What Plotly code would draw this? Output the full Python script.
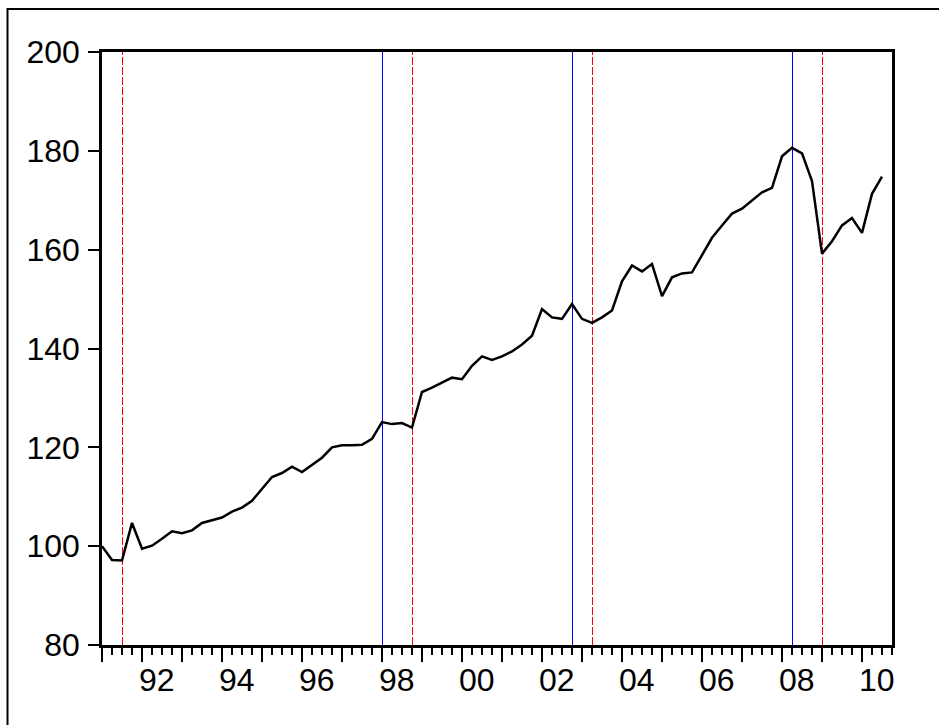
import plotly.graph_objects as go

# ---- data (quarterly, 1991Q1 .. 2010Q3) ----
start_year = 1991
values = [
    100.0, 97.2, 97.1, 104.7, 99.5, 100.1, 101.5, 103.0, 102.6, 103.2,
    104.7, 105.3, 105.8, 107.0, 107.8, 109.2, 111.7, 114.0, 114.8, 116.1,
    115.0, 116.5, 117.9, 120.0, 120.4, 120.4, 120.5, 121.7, 125.1, 124.7,
    124.9, 124.0, 131.2, 132.1, 133.1, 134.1, 133.8, 136.5, 138.4, 137.7,
    138.4, 139.4, 140.8, 142.6, 148.0, 146.3, 146.0, 149.0, 146.0, 145.2,
    146.3, 147.7, 153.6, 156.8, 155.6, 157.1, 150.6, 154.4, 155.2, 155.4,
    158.9, 162.4, 164.9, 167.3, 168.3, 169.9, 171.6, 172.5, 178.9, 180.6,
    179.5, 173.9, 159.2, 161.7, 164.9, 166.4, 163.4, 171.3, 174.8,
]
# vertical markers (year, quarter)
blue_quarters = [(1998, 1), (2002, 4), (2008, 2)]
red_quarters = [(1991, 3), (1998, 4), (2003, 2), (2009, 1)]
label_years = list(range(1992, 2011, 2))
tick_labels = ["%02d" % (y % 100) for y in label_years]
y_ticks = [80, 100, 120, 140, 160, 180, 200]

W, H = 939, 725
L, R, T, B = 102, 892, 52, 645
x_range = [start_year, start_year + 19.75]
px_per_year = (R - L) / (x_range[1] - x_range[0])
half_px = 0.5 / px_per_year  # keeps 1px marker lines crisp on the pixel grid

def qpos(y, q):
    return y + (q - 1) / 4.0

x = [start_year + i / 4.0 for i in range(len(values))]

fig = go.Figure()
fig.add_trace(go.Scatter(x=x, y=values, mode="lines",
                         line=dict(color="black", width=2.5), showlegend=False,
                         hoverinfo="skip"))

for (yy, q) in blue_quarters:
    fig.add_vline(x=qpos(yy, q) + half_px, line=dict(color="#0000ff", width=1), layer="below")
for (yy, q) in red_quarters:
    fig.add_vline(x=qpos(yy, q) + half_px, line=dict(color="#ff0000", width=1, dash="8px,2px"), layer="below")

font = dict(family="Liberation Sans, Arial, sans-serif", size=32, color="black")

fig.update_layout(
    width=W, height=H,
    margin=dict(l=L, r=W - R, t=T, b=H - B),
    paper_bgcolor="white", plot_bgcolor="white",
    showlegend=False,
    font=font,
    xaxis=dict(
        range=x_range, showgrid=False, zeroline=False,
        showline=True, linecolor="black", linewidth=2.5, mirror=True,
        ticks="outside", tick0=start_year, dtick=1, ticklen=14, tickwidth=2,
        tickcolor="black", showticklabels=False,
        minor=dict(ticks="outside", dtick=0.25, tick0=start_year, ticklen=7,
                   tickwidth=1.5, tickcolor="black", showgrid=False),
    ),
    xaxis2=dict(
        range=x_range, overlaying="x", side="bottom", anchor="y",
        showgrid=False, zeroline=False, showline=False, ticks="",
        tickmode="array", tickvals=[yy + 0.37 for yy in label_years],
        ticktext=tick_labels, tickfont=font, ticklabelstandoff=13,
    ),
    yaxis=dict(
        range=[80, 200], showgrid=False, zeroline=False,
        showline=True, linecolor="black", linewidth=2.5, mirror=True,
        ticks="outside", tickvals=y_ticks, ticklen=11, tickwidth=2,
        tickcolor="black", tickfont=font, ticklabelstandoff=2,
    ),
)
fig.add_trace(go.Scatter(x=[], y=[], xaxis="x2", showlegend=False))

# outer frame
pw, ph = R - L, B - T
fig.add_shape(type="rect", xref="paper", yref="paper",
              x0=(7.5 - L) / pw, x1=(W + 10 - L) / pw,
              y0=(B - (H + 10)) / ph, y1=(B - 9) / ph,
              line=dict(color="black", width=2), fillcolor="rgba(0,0,0,0)",
              layer="above")

fig.write_html(
    "out.html",
    config={"displayModeBar": False},
    post_script="document.body.style.margin='0';document.body.style.overflow='hidden';",
)
